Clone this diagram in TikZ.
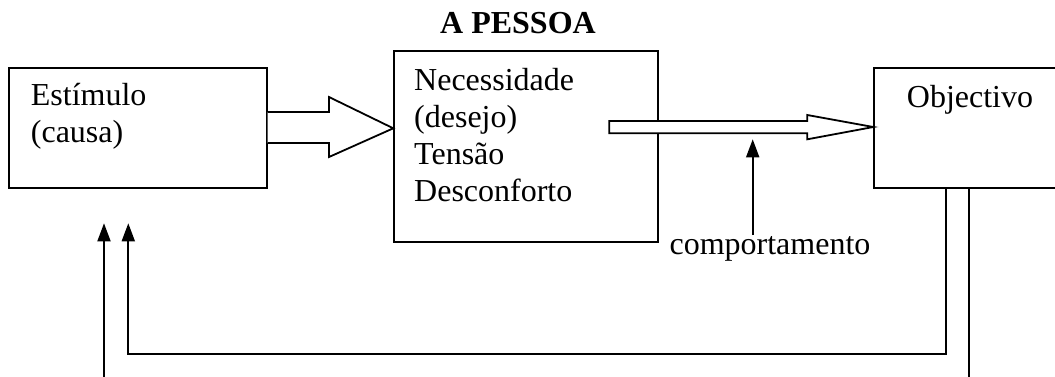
\documentclass[tikz,border=0pt]{standalone}
\usepackage{fontspec}
\setmainfont{Liberation Serif}
\usetikzlibrary{arrows.meta}
\begin{document}
\begin{tikzpicture}[x=1pt,y=-1pt,
  line width=1.8pt,
  box/.style={draw, line width=1.8pt, rectangle, anchor=north west, inner sep=0pt},
  txt/.style={anchor=base west, inner sep=0pt, font=\fontsize{32}{37}\selectfont},
  hollow/.style={draw, fill=white, line width=1.8pt, line join=miter},
  up/.style={-{Triangle[length=18pt,width=13pt]}, line width=1.8pt, line join=miter}]
\useasboundingbox (0,0) rectangle (1055,376);
\clip (0,0) rectangle (1055,376);
\fill[white] (0,0) rectangle (1055,376);

% boxes
\node[box, minimum width=257.5pt, minimum height=120pt] (stim) at (8.3,66.7) {};
\node[box, minimum width=263.5pt, minimum height=190.7pt] (nec) at (393.3,50) {};
\node[box, minimum width=200pt, minimum height=120pt] (obj) at (873.3,66.7) {};

% texts
\node[txt] (t1) at (30,105) {Estímulo};
\node[txt] (t2) at (30,142) {(causa)};
\node[txt] (n1) at (413.3,90) {Necessidade};
\node[txt] (n2) at (413.3,127) {(desejo)};
\node[txt] (n3) at (413.3,164) {Tensão};
\node[txt] (n4) at (413.3,201) {Desconforto};
\node[txt] (o1) at (906,107) {Objectivo};
\node[anchor=base, inner sep=0pt, font=\bfseries\fontsize{32}{37}\selectfont] (title) at (518,33) {A PESSOA};
\node[anchor=base, inner sep=0pt, font=\fontsize{32}{37}\selectfont] (comp) at (770,254) {comportamento};

% hollow arrow stim -> nec
\coordinate (a1tip) at (nec.west |- 0,128.3);
\draw[hollow] (stim.east |- 0,112) -- (329,112) -- (329,97) -- (a1tip)
  -- (329,157) -- (329,143) -- (stim.east |- 0,143);

% hollow arrow nec -> obj
\coordinate (a2tip) at (obj.west |- 0,127);
\draw[hollow] (609.3,121) -- (807.3,121) -- (807.3,115) -- (a2tip)
  -- (807.3,139.3) -- (807.3,133.3) -- (609.3,133.3) -- cycle;

% comportamento arrow
\coordinate (cbot) at (752.7,235);
\draw[up] (cbot) -- (752.7,139.3);

% feedback loops
\coordinate (f1) at (obj.south -| 946,0);
\coordinate (f2) at (obj.south -| 969.3,0);
\coordinate (e1) at (128.3,223.3);
\coordinate (e2) at (104,223.3);
\draw[up] (f1) -- (946,354) -- (e1 |- 0,354) -- (e1);
\draw[up] (f2) -- (969.3,400) -- (e2 |- 0,400) -- (e2);
\end{tikzpicture}
\end{document}
